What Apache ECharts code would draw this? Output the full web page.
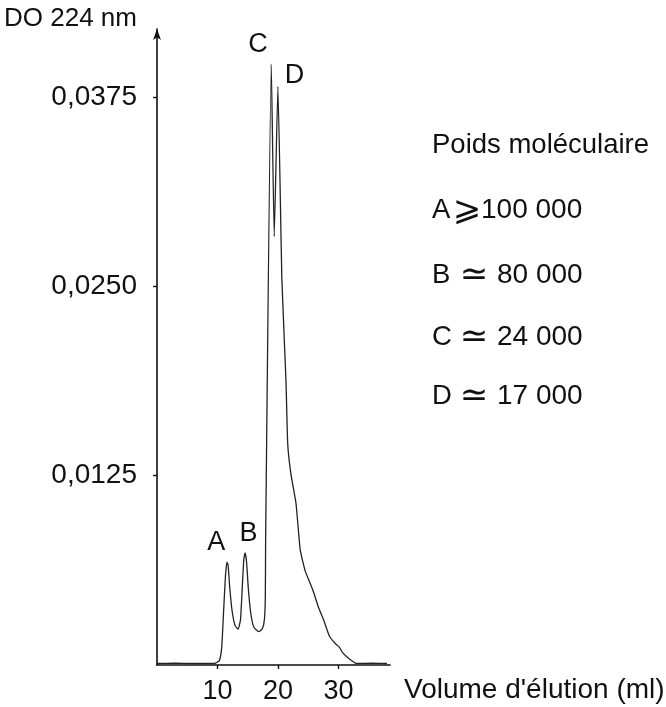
<!DOCTYPE html>
<html><head><meta charset="utf-8">
<script src="https://cdn.jsdelivr.net/npm/echarts@6/dist/echarts.min.js"></script>
<style>html,body{margin:0;padding:0;background:#fff}#c{width:666px;height:707px}</style>
</head><body><div id="c"></div>
<script>
// Elution volume (ml)
const volume = [0, 3, 6, 9.5, 10.3, 10.7, 11.0, 11.3, 11.55, 11.75, 12.0, 12.4, 12.9, 13.4, 13.8, 14.1, 14.35, 14.55, 14.8, 15.1, 15.5, 16.0, 16.8, 17.4, 17.75, 17.9, 17.95, 18.88, 19.37, 19.98, 20.64, 21.31, 21.6, 22.13, 22.96, 23.67, 24.5, 25.7, 26.7, 27.6, 28.5, 29.5, 30.1, 30.7, 31.8, 33.0, 35.5, 38.0];
// Absorbance at 224 nm
const absorbance = [0.0001, 0.00012, 0.0001, 0.0001, 0.0003, 0.0012, 0.0035, 0.0058, 0.0068, 0.0066, 0.0052, 0.0036, 0.0026, 0.00236, 0.0030, 0.0052, 0.0070, 0.0074, 0.0068, 0.0050, 0.0034, 0.0025, 0.0022, 0.0024, 0.0030, 0.0045, 0.0083, 0.0397, 0.0283, 0.0382, 0.0254, 0.0188, 0.0146, 0.0126, 0.0107, 0.0076, 0.0062, 0.0050, 0.0038, 0.0029, 0.0019, 0.0014, 0.0012, 0.0008, 0.0004, 0.0001, 0.00012, 0.0001];
const xTicks = [10, 20, 30];
const yTicks = [0.0125, 0.025, 0.0375];
const peakNames = ['A', 'B', 'C', 'D'];
const peakLabelX = [9.8, 15.1, 16.7, 22.7];
const peakLabelY = [0.0081, 0.0087, 0.0410, 0.0389];
const legendTitle = 'Poids moléculaire';
const legendLetters = ['A', 'B', 'C', 'D'];
const legendSymbols = ['⩾', '≃', '≃', '≃'];
const legendValues = ['100 000', '80 000', '24 000', '17 000'];
const xName = "Volume d'élution (ml)";
const yName = 'DO 224 nm';

const FONT = '"Liberation Sans", Arial, "DejaVu Sans", sans-serif';
const SYMFONT = '"DejaVu Sans", sans-serif';
const INK = '#111';
const chart = echarts.init(document.getElementById('c'), null, {renderer: 'canvas'});
const series = volume.map((v, i) => [v, absorbance[i]]);
const legendY = [145, 210, 275, 337, 396];

chart.setOption({
  animation: false,
  backgroundColor: '#fff',
  grid: {left: 157, top: 29, width: 233, height: 636},
  xAxis: {
    type: 'value', min: 0, max: 38.5, interval: 10,
    splitLine: {show: false},
    axisLine: {onZero: false, lineStyle: {color: INK, width: 1.6}},
    axisTick: {show: true, length: 4, customValues: xTicks, lineStyle: {color: INK, width: 1.4}},
    axisLabel: {customValues: xTicks, color: INK, fontSize: 27, fontFamily: FONT, margin: 13}
  },
  yAxis: {
    type: 'value', min: 0, max: 0.042, interval: 0.0125,
    splitLine: {show: false},
    axisLine: {show: true, onZero: false, symbol: ['none', 'arrow'], symbolSize: [6, 11], lineStyle: {color: INK, width: 1.6}},
    axisTick: {show: true, length: 4, customValues: yTicks, lineStyle: {color: INK, width: 1.4}},
    axisLabel: {customValues: yTicks, color: INK, fontSize: 28, fontFamily: FONT, margin: 20,
      formatter: v => v.toFixed(4).replace('.', ',')}
  },
  series: [{
    type: 'line', data: series, showSymbol: false, smooth: 0.15,
    lineStyle: {color: '#222', width: 1.3}
  }]
});

const g = [];
const txt = (x, y, s, size, extra) => ({type: 'text', x: x, y: y,
  style: Object.assign({text: s, fontSize: size, fontFamily: FONT, fill: INK, textVerticalAlign: 'middle'}, extra || {})});
g.push(txt(4, 19, yName, 26));
g.push(txt(404, 690, xName, 28));
g.push(txt(432, legendY[0], legendTitle, 27.5));
const symX = [467, 474, 474, 474];
const symSize = [34, 34, 34, 34];
const valX = [481, 497, 497, 497];
legendLetters.forEach((t, i) => {
  const y = legendY[i + 1];
  g.push(txt(432, y, t, 27.5));
  g.push(txt(symX[i], y + 1, legendSymbols[i], symSize[i], {fontFamily: SYMFONT, textAlign: 'center'}));
  g.push(txt(valX[i], y, legendValues[i], 28));
});
peakNames.forEach((n, i) => {
  const p = chart.convertToPixel({gridIndex: 0}, [peakLabelX[i], peakLabelY[i]]);
  g.push(txt(p[0], p[1], n, 27, {textAlign: 'center'}));
});
chart.setOption({graphic: g});
</script>
</body></html>
